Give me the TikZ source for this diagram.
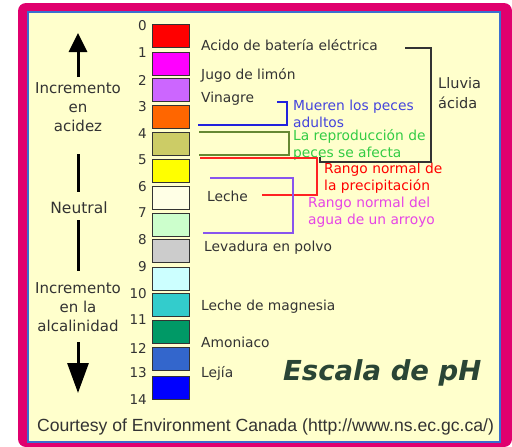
\documentclass[tikz,border=0pt]{standalone}
\usepackage{fontspec}
\setmainfont{DejaVu Sans}
\newfontfamily\arialf{Liberation Sans}
\usetikzlibrary{arrows.meta}
\definecolor{frameM}{HTML}{E0006E}
\definecolor{frameB}{HTML}{3A6FD0}
\definecolor{cream}{HTML}{FFFFCC}
\definecolor{txt}{HTML}{333333}
\definecolor{ph0}{HTML}{FF0000}
\definecolor{ph1}{HTML}{FF00FF}
\definecolor{ph2}{HTML}{CC66FF}
\definecolor{ph3}{HTML}{FF6600}
\definecolor{ph4}{HTML}{CCCC66}
\definecolor{ph5}{HTML}{FFFF00}
\definecolor{ph6}{HTML}{FFFFE6}
\definecolor{ph7}{HTML}{CCFFCC}
\definecolor{ph8}{HTML}{CCCCCC}
\definecolor{ph9}{HTML}{CCFFFF}
\definecolor{ph10}{HTML}{33CCCC}
\definecolor{ph11}{HTML}{009966}
\definecolor{ph12}{HTML}{3366CC}
\definecolor{ph13}{HTML}{0000FF}
\definecolor{lblue}{HTML}{2222DD}
\definecolor{tblue}{HTML}{4444DD}
\definecolor{lolive}{HTML}{668833}
\definecolor{tgreen}{HTML}{33CC44}
\definecolor{lred}{HTML}{FF2222}
\definecolor{lpurple}{HTML}{8855EE}
\definecolor{tmag}{HTML}{E645E6}
\definecolor{titlec}{HTML}{2A4535}
\tikzset{
  phbox/.style={draw=txt, line width=1.2pt, minimum width=37pt, minimum height=22.5pt, anchor=north west, inner sep=0pt},
  numlbl/.style={anchor=east, inner sep=0pt, text=txt, font=\fontsize{13.5}{15}\selectfont},
  lbl/.style={anchor=west, inner sep=0pt, text=txt, font=\fontsize{13.8}{17}\selectfont},
  clbl/.style={anchor=west, inner sep=0pt, align=left, font=\fontsize{13.8}{17}\selectfont},
  sidelbl/.style={inner sep=0pt, align=center, text=txt, font=\fontsize{15}{19}\selectfont},
  brk/.style={line width=1.5pt},
  bigline/.style={line width=3pt, draw=black}
}
\begin{document}
\begin{tikzpicture}[x=1pt,y=-1pt]
\useasboundingbox (0,0) rectangle (512,447);
\fill[frameM, rounded corners=8pt] (18,3) rectangle (512,447);
\fill[cream] (28,12) rectangle (500,442);
\draw[frameB, line width=2pt] (28,12) rectangle (500,442);

% colour boxes
\foreach \n/\t in {0/24,1/52,2/78,3/105,4/132,5/159,6/186,7/213,8/239,9/267,10/293,11/320,12/347,13/376}
  \node[phbox, fill=ph\n] (box\n) at (152,\t) {};
% numbers
\foreach \n/\y in {0/26,1/53,2/80,3/107,4/134,5/160,6/187,7/213,8/240,9/267,10/294,11/320,12/348,13/373,14/400}
  \node[numlbl] (num\n) at (147,\y) {\n};

% left side
\node[sidelbl] (acid) at (78,107) {Incremento\\en\\acidez};
\node[sidelbl, font=\fontsize{15.5}{19}\selectfont] (neutral) at (79,208) {Neutral};
\node[sidelbl] (alc) at (78,307) {Incremento\\en la\\alcalinidad};
\coordinate (upS) at (78,77); \coordinate (upE) at (78,33);
\coordinate (n1a) at (78,154); \coordinate (n1b) at (78,192);
\coordinate (n2a) at (78,220); \coordinate (n2b) at (78,271);
\coordinate (dnS) at (78,342); \coordinate (dnE) at (78,393);
\draw[bigline, -{Triangle[width=18pt,length=19pt]}] (upS) -- (upE);
\draw[bigline] (n1a) -- (n1b);
\draw[bigline] (n2a) -- (n2b);
\draw[bigline, -{Triangle[width=21pt,length=30pt]}] (dnS) -- (dnE);

% labels
\node[lbl] (bat) at (201,45) {Acido de batería eléctrica};
\node[lbl] (lim) at (201,75) {Jugo de limón};
\node[lbl] (vin) at (201,99) {Vinagre};
\node[lbl] (lec) at (207,196) {Leche};
\node[lbl] (lev) at (204,248) {Levadura en polvo};
\node[lbl] (mag) at (201,307) {Leche de magnesia};
\node[lbl] (amo) at (201,342) {Amoniaco};
\node[lbl] (lej) at (201,373) {Lejía};

\node[clbl, text=tblue] (peces) at (293,114) {Mueren los peces\\adultos};
\node[clbl, text=tgreen] (repro) at (293,145) {La reproducción de\\peces se afecta};
\node[clbl, text=red] (prec) at (324,178) {Rango normal de\\la precipitación};
\node[clbl, text=tmag] (arro) at (308,212) {Rango normal del\\agua de un arroyo};
\node[clbl, text=txt, font=\fontsize{14.5}{20}\selectfont] (lluv) at (438,93) {Lluvia\\ácida};

\node[inner sep=0pt, anchor=west, text=titlec, font=\fontsize{27.5}{30}\bfseries\itshape\selectfont] (title) at (283,373) {Escala de pH};
\node[inner sep=0pt, text=txt, font=\arialf\fontsize{17.6}{20}\selectfont] (court) at (265.5,427) {Courtesy of Environment Canada (http://www.ns.ec.gc.ca/)};

% brackets
\coordinate (k1) at (405,48); \coordinate (k2) at (431,48); \coordinate (k3) at (431,162); \coordinate (k4) at (320,162); \coordinate (k5) at (320,157);
\draw[brk, draw=txt] (k1) -- (k2) -- (k3) -- (k4) -- (k5);
\coordinate (b1) at (277,102); \coordinate (b2) at (287,102); \coordinate (b3) at (287,125); \coordinate (b4) at (198,125);
\draw[brk, draw=lblue] (b1) -- (b2) -- (b3) -- (b4);
\coordinate (g1) at (199,132); \coordinate (g2) at (289,132); \coordinate (g3) at (289,155); \coordinate (g4) at (199,155);
\draw[brk, draw=lolive] (g1) -- (g2) -- (g3) -- (g4);
\coordinate (r1) at (200,158); \coordinate (r2) at (317,158); \coordinate (r3) at (317,195); \coordinate (r4) at (262,195);
\draw[brk, draw=lred] (r1) -- (r2) -- (r3) -- (r4);
\coordinate (p1) at (210,178); \coordinate (p2) at (293,178); \coordinate (p3) at (293,233); \coordinate (p4) at (203,233);
\draw[brk, draw=lpurple] (p1) -- (p2) -- (p3) -- (p4);
\end{tikzpicture}
\end{document}
